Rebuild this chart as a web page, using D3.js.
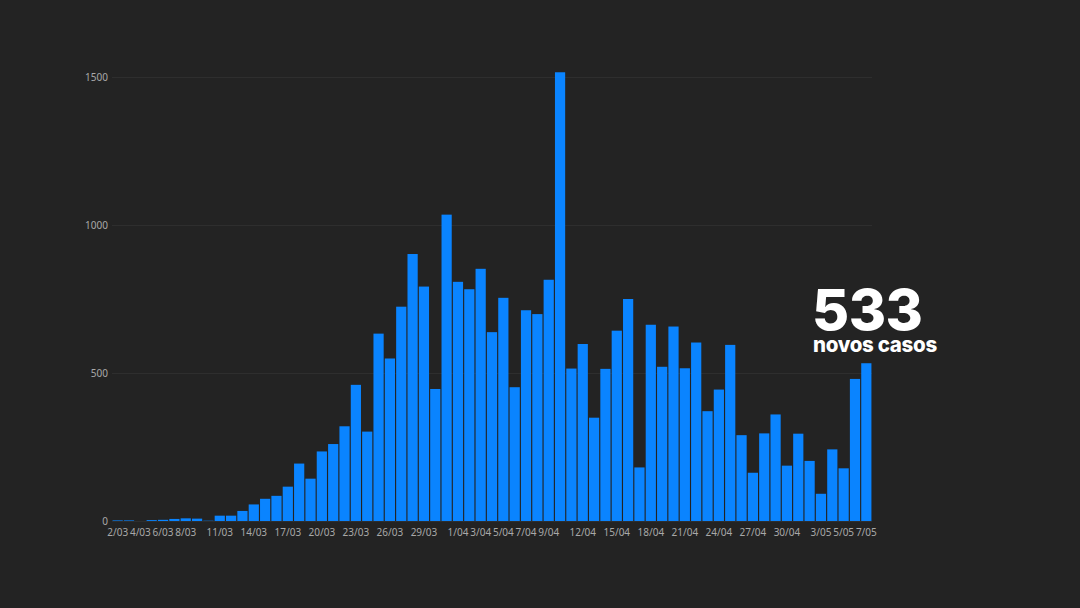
<!DOCTYPE html>
<meta charset="utf-8">
<style>
body { margin: 0; background: #232323; }
text { font-family: 'Noto Sans', sans-serif; }
.axis text { fill: #a8a8a8; font-size: 10px; }
.axis path, .axis line { display: none; }
.grid path { display: none; }
.grid line { stroke: #2e2e2e; stroke-width: 1; }
.bar { fill: #0a84ff; }
.big { fill: #fff; font-family: Inter, sans-serif; font-weight: 800; }
</style>
<svg id="chart" width="1080" height="608"></svg>
<script src="https://d3js.org/d3.v7.min.js"></script>
<script>

var translate = function(left, top) {
    return "translate(" + left + "," + top + ")";
};

// daily new cases, 2/03 to 7/05
var startDay = new Date(2020, 2, 2);
var cases = [2, 2, 0, 3, 4, 7, 9, 8, 1, 18, 18, 34, 56, 75, 85, 116, 194, 143, 235, 260,
    320, 460, 302, 633, 549, 724, 902, 792, 446, 1035, 808, 783, 852, 638, 754, 452, 712,
    699, 815, 1516, 515, 598, 349, 514, 643, 750, 181, 663, 521, 657, 516, 603, 371, 444,
    595, 290, 163, 296, 360, 187, 295, 203, 92, 242, 178, 480, 533];
var days = cases.map(function(d, i) {
    var t = new Date(startDay);
    t.setDate(t.getDate() + i);
    return t.getDate() + "/" + String(t.getMonth() + 1).padStart(2, "0");
});
var shownLabels = ["2/03", "4/03", "6/03", "8/03", "11/03", "14/03", "17/03", "20/03",
    "23/03", "26/03", "29/03", "1/04", "3/04", "5/04", "7/04", "9/04", "12/04", "15/04",
    "18/04", "21/04", "24/04", "27/04", "30/04", "3/05", "5/05", "7/05"];
var yTicks = [0, 500, 1000, 1500];

var svg = d3.select("#chart"),
    margins = {top: 77, right: 208, bottom: 87, left: 112},
    width = +svg.attr("width") - margins.left - margins.right,
    height = +svg.attr("height") - margins.top - margins.bottom;

var g = svg.append("g").attr("transform", translate(margins.left, margins.top));

var x = d3.scaleBand().range([0, width]).domain(days).paddingInner(0.1).paddingOuter(0.05);
var y = d3.scaleLinear().range([height, 0]).domain([0, 1500]);

g.append("g")
    .attr("class", "grid")
    .call(d3.axisLeft(y).tickValues(yTicks).tickSize(-width).tickFormat(""));

g.append("g")
    .attr("class", "axis")
    .attr("transform", translate(-4, 0))
    .call(d3.axisLeft(y).tickValues(yTicks).tickSize(0).tickPadding(0).tickFormat(d3.format("d")));

g.selectAll(".bar")
    .data(cases)
    .enter().append("rect")
    .attr("class", "bar")
    .attr("x", function(d, i) { return x(days[i]); })
    .attr("y", function(d) { return y(d); })
    .attr("width", x.bandwidth())
    .attr("height", function(d) { return height - y(d); });

g.append("g")
    .attr("class", "axis")
    .attr("transform", translate(0, height + 2))
    .call(d3.axisBottom(x).tickValues(shownLabels).tickSize(0).tickPadding(6));

// callout for the last day
var last = cases[cases.length - 1];
svg.append("text")
    .attr("class", "big")
    .attr("x", 812)
    .attr("y", 330)
    .attr("font-size", 57)
    .attr("letter-spacing", -0.5)
    .text(last);

svg.append("text")
    .attr("class", "big")
    .attr("x", 813)
    .attr("y", 352)
    .attr("font-size", 20.5)
    .attr("font-weight", 700)
    .attr("letter-spacing", -0.3)
    .text("novos casos");

</script>
